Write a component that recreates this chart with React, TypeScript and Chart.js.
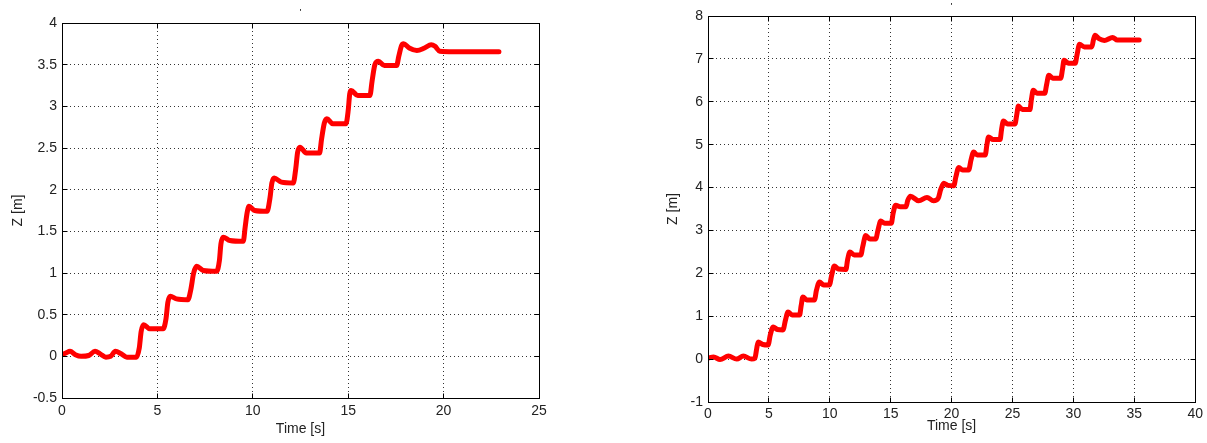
import React, { useEffect, useRef } from "react";
import { Chart, registerables } from "chart.js";

Chart.register(...registerables);

// ---------- data ----------
const LEFT_T = [
  0, 0.2, 0.42, 0.7, 1.0, 1.4, 1.73, 2.0, 2.3, 2.55, 2.8, 3.1, 3.4, 3.9,
  4.05, 4.15, 4.28, 4.6, 5.3, 5.45, 5.55, 5.68, 6.0, 6.6, 6.75, 6.9, 7.06, 7.4,
  8.1, 8.25, 8.33, 8.45, 8.8, 9.5, 9.6, 9.7, 9.8, 10.1, 10.75, 10.9, 11.0,
  11.12, 11.5, 12.12, 12.25, 12.35, 12.47, 12.8, 13.5, 13.6, 13.75, 13.88,
  14.2, 14.88, 15.0, 15.08, 15.15, 15.5, 16.14, 16.25, 16.4, 16.58, 16.9,
  17.54, 17.65, 17.8, 17.9, 18.2, 18.6, 19.0, 19.35, 19.55, 19.8, 20.5, 22.9,
];
const LEFT_Z = [
  0.02, 0.04, 0.06, 0.02, 0.0, 0.01, 0.06, 0.03, -0.01, 0.0, 0.06, 0.03, -0.01, -0.01,
  0.1, 0.3, 0.38, 0.33, 0.33, 0.45, 0.65, 0.72, 0.69, 0.68, 0.8, 1.0, 1.08, 1.03,
  1.02, 1.15, 1.35, 1.43, 1.39, 1.38, 1.55, 1.72, 1.8, 1.75, 1.74, 1.9, 2.08,
  2.14, 2.09, 2.08, 2.25, 2.45, 2.51, 2.44, 2.44, 2.6, 2.8, 2.85,
  2.79, 2.79, 2.95, 3.15, 3.19, 3.13, 3.13, 3.3, 3.5, 3.54, 3.49,
  3.49, 3.6, 3.73, 3.75, 3.7, 3.67, 3.7, 3.74, 3.72, 3.66, 3.655, 3.655,
];
const LEFT_X_TICKS = [0, 5, 10, 15, 20, 25];
const LEFT_Y_TICKS = [-0.5, 0, 0.5, 1, 1.5, 2, 2.5, 3, 3.5, 4];

const RIGHT_T = [
  0, 0.46, 0.99, 1.68, 2.36, 2.9, 3.58, 3.85, 4.0, 4.12, 4.5, 4.94, 5.1, 5.35,
  5.7, 6.16, 6.35, 6.57, 6.9, 7.52, 7.65, 7.79, 8.1, 8.74, 8.9, 9.15, 9.5,
  9.97, 10.15, 10.37, 10.7, 11.33, 11.45, 11.65, 12.0, 12.55, 12.7, 12.95,
  13.3, 13.77, 13.95, 14.18, 14.5, 15.05, 15.2, 15.4, 15.8, 16.25, 16.4,
  16.62, 17.3, 17.98, 18.52, 18.9, 19.1, 19.35, 19.7, 20.18, 20.35, 20.59,
  20.9, 21.4, 21.6, 21.81, 22.1, 22.76, 22.9, 23.03, 23.4, 23.98, 24.1, 24.25,
  24.6, 25.2, 25.35, 25.48, 25.8, 26.43, 26.55, 26.7, 27.0, 27.65, 27.8, 27.98,
  28.3, 28.96, 29.1, 29.23, 29.6, 30.15, 30.3, 30.5, 30.9, 31.51, 31.65, 31.78,
  32.1, 32.54, 33.22, 33.6, 35.4,
];
const RIGHT_Z = [
  0.02, 0.05, -0.01, 0.07, 0.0, 0.07, 0.0, 0.02, 0.25, 0.4, 0.34, 0.33, 0.55, 0.75,
  0.69, 0.68, 0.9, 1.1, 1.03, 1.03, 1.25, 1.45, 1.38, 1.38, 1.6, 1.8, 1.73,
  1.73, 1.95, 2.17, 2.1, 2.09, 2.3, 2.5, 2.43, 2.43, 2.62, 2.88,
  2.8, 2.8, 3.0, 3.22, 3.17, 3.17, 3.4, 3.59, 3.55, 3.55, 3.7,
  3.8, 3.69, 3.77, 3.69, 3.75, 3.95, 4.1, 4.05, 4.04, 4.25, 4.47,
  4.41, 4.41, 4.65, 4.83, 4.76, 4.76, 5.0, 5.18, 5.12, 5.12, 5.35, 5.55,
  5.48, 5.48, 5.7, 5.9, 5.82, 5.82, 6.05, 6.27, 6.2, 6.2, 6.4, 6.62,
  6.55, 6.55, 6.75, 6.97, 6.9, 6.9, 7.1, 7.34, 7.28, 7.28, 7.45, 7.55,
  7.47, 7.43, 7.5, 7.44, 7.44,
];
const RIGHT_X_TICKS = [0, 5, 10, 15, 20, 25, 30, 35, 40];
const RIGHT_Y_TICKS = [-1, 0, 1, 2, 3, 4, 5, 6, 7, 8];

const X_TITLE = "Time [s]";
const Y_TITLE = "Z [m]";
const TOP_MARK = "'";

// ---------- styling ----------
const FONT = '"Liberation Sans", Arial, Helvetica, sans-serif';
const TEXT_COLOR = "#222";
const LINE_COLOR = "#ff0000";

type Layout = {
  left: number;
  width: number;
  height: number;
  padTop: number;
  padRight: number;
  yAxisWidth: number;
  xAxisHeight: number;
  yTickPad: number;
  xTickPad: number;
  yTitlePad: number;
  xTitlePad: number;
  markOffset: number;
};

const alignPx = (p: number) => Math.round(p - 0.5) + 0.5;

const boxPlugin = {
  id: "matlabBox",
  afterDatasetsDraw(chart: any, _args: any, opts: any) {
    const { ctx, chartArea, scales } = chart;
    const L = alignPx(chartArea.left);
    const R = alignPx(chartArea.right);
    const T = alignPx(chartArea.top);
    const B = alignPx(chartArea.bottom);
    ctx.save();
    ctx.setLineDash([]);
    ctx.strokeStyle = "#000";
    ctx.lineWidth = 1;
    ctx.strokeRect(L, T, R - L, B - T);
    const tl = 5;
    ctx.beginPath();
    for (const t of scales.x.ticks) {
      const x = alignPx(scales.x.getPixelForValue(t.value));
      ctx.moveTo(x, B);
      ctx.lineTo(x, B - tl);
      ctx.moveTo(x, T);
      ctx.lineTo(x, T + tl);
    }
    for (const t of scales.y.ticks) {
      const y = alignPx(scales.y.getPixelForValue(t.value));
      ctx.moveTo(L, y);
      ctx.lineTo(L + tl, y);
      ctx.moveTo(R, y);
      ctx.lineTo(R - tl, y);
    }
    ctx.stroke();
    if (opts && opts.mark) {
      ctx.fillStyle = "#000";
      ctx.font = `9px ${FONT}`;
      ctx.textAlign = "center";
      ctx.textBaseline = "middle";
      ctx.fillText(opts.mark, (chartArea.left + chartArea.right) / 2, chartArea.top - opts.markOffset);
    }
    ctx.restore();
  },
};

function Panel(props: {
  t: number[];
  z: number[];
  xTicks: number[];
  yTicks: number[];
  layout: Layout;
}) {
  const ref = useRef<HTMLCanvasElement | null>(null);
  const { t, z, xTicks, yTicks, layout } = props;

  useEffect(() => {
    if (!ref.current) return;
    const points = t.map((x, i) => ({ x, y: z[i] }));
    const chart = new Chart(ref.current, {
      type: "line",
      data: {
        datasets: [
          {
            data: points,
            borderColor: LINE_COLOR,
            backgroundColor: LINE_COLOR,
            borderWidth: 5,
            pointRadius: 0,
            borderCapStyle: "round",
            borderJoinStyle: "round",
            cubicInterpolationMode: "monotone",
            fill: false,
          },
        ],
      },
      options: {
        animation: false,
        responsive: false,
        devicePixelRatio: 1,
        events: [],
        layout: {
          padding: { top: layout.padTop, right: layout.padRight, left: 0, bottom: 0 },
        },
        plugins: {
          legend: { display: false },
          tooltip: { enabled: false },
          title: { display: false },
          matlabBox: { mark: TOP_MARK, markOffset: layout.markOffset },
        } as any,
        scales: {
          x: {
            type: "linear",
            min: xTicks[0],
            max: xTicks[xTicks.length - 1],
            afterBuildTicks: (s: any) => {
              s.ticks = xTicks.map((v) => ({ value: v }));
            },
            afterFit: (s: any) => {
              s.height = layout.xAxisHeight;
            },
            grid: { color: "#333", lineWidth: 1, drawTicks: false },
            border: { display: false, dash: [1, 3] },
            ticks: {
              color: TEXT_COLOR,
              font: { family: FONT, size: 14 },
              padding: layout.xTickPad,
              maxRotation: 0,
              autoSkip: false,
              callback: (v: any) => String(v),
            },
            title: {
              display: true,
              text: X_TITLE,
              color: TEXT_COLOR,
              font: { family: FONT, size: 14 },
              padding: { top: 0, bottom: layout.xTitlePad },
            },
          },
          y: {
            type: "linear",
            min: yTicks[0],
            max: yTicks[yTicks.length - 1],
            afterBuildTicks: (s: any) => {
              s.ticks = yTicks.map((v) => ({ value: v }));
            },
            afterFit: (s: any) => {
              s.width = layout.yAxisWidth;
            },
            grid: { color: "#333", lineWidth: 1, drawTicks: false },
            border: { display: false, dash: [1, 3] },
            ticks: {
              color: TEXT_COLOR,
              font: { family: FONT, size: 14 },
              padding: layout.yTickPad,
              autoSkip: false,
              callback: (v: any) => String(v),
            },
            title: {
              display: true,
              text: Y_TITLE,
              color: TEXT_COLOR,
              font: { family: FONT, size: 14 },
              padding: { top: layout.yTitlePad, bottom: 0 },
            },
          },
        },
      },
      plugins: [boxPlugin as any],
    });
    return () => chart.destroy();
  }, []);

  return (
    <canvas
      ref={ref}
      width={layout.width}
      height={layout.height}
      style={{
        position: "absolute",
        left: layout.left,
        top: 0,
        width: layout.width,
        height: layout.height,
      }}
    />
  );
}

const LEFT_LAYOUT: Layout = {
  left: 0,
  width: 580,
  height: 443,
  padTop: 23,
  padRight: 41,
  yAxisWidth: 62,
  xAxisHeight: 45,
  yTickPad: 5,
  xTickPad: 5,
  yTitlePad: 10,
  xTitlePad: 5,
  markOffset: 10,
};

const RIGHT_LAYOUT: Layout = {
  left: 600,
  width: 607,
  height: 443,
  padTop: 16,
  padRight: 8,
  yAxisWidth: 108,
  xAxisHeight: 41,
  yTickPad: 5,
  xTickPad: 4,
  yTitlePad: 65,
  xTitlePad: 8,
  markOffset: 9,
};

export default function App() {
  return (
    <div
      style={{
        position: "absolute",
        left: 0,
        top: 0,
        width: 1207,
        height: 443,
        background: "#fff",
        overflow: "hidden",
      }}
    >
      <Panel t={LEFT_T} z={LEFT_Z} xTicks={LEFT_X_TICKS} yTicks={LEFT_Y_TICKS} layout={LEFT_LAYOUT} />
      <Panel t={RIGHT_T} z={RIGHT_Z} xTicks={RIGHT_X_TICKS} yTicks={RIGHT_Y_TICKS} layout={RIGHT_LAYOUT} />
    </div>
  );
}
